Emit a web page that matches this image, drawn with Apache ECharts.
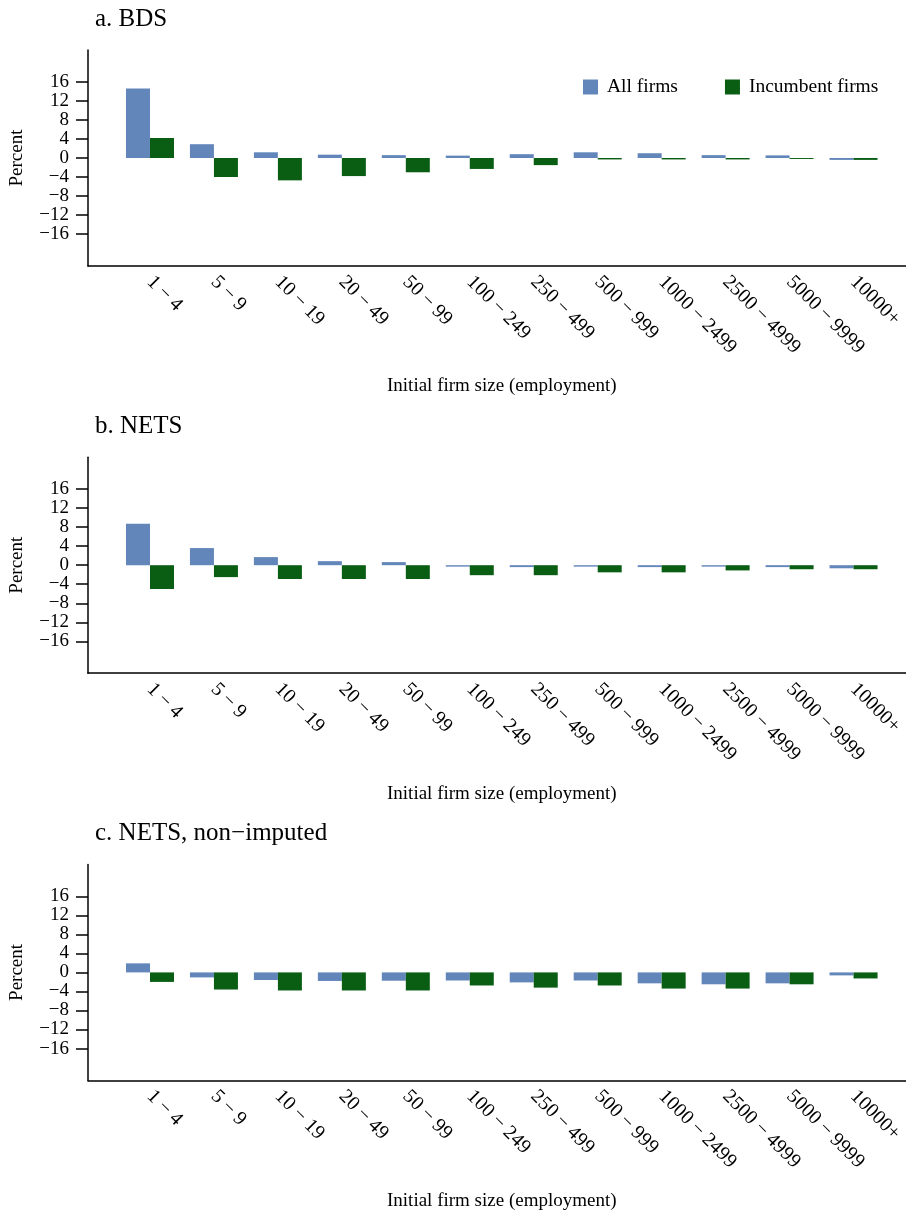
<!DOCTYPE html>
<html>
<head>
<meta charset="utf-8">
<script src="https://cdn.jsdelivr.net/npm/echarts@6/dist/echarts.min.js"></script>
<style>
html,body{margin:0;padding:0;background:#fff;}
#chart{width:906px;height:1216px;}
</style>
</head>
<body>
<div id="chart"></div>
<script>
// ---- data ----
const categories = ["1 \u2212 4","5 \u2212 9","10 \u2212 19","20 \u2212 49","50 \u2212 99","100 \u2212 249","250 \u2212 499","500 \u2212 999","1000 \u2212 2499","2500 \u2212 4999","5000 \u2212 9999","10000+"];
const panelTitles = ["a. BDS", "b. NETS", "c. NETS, non\u2212imputed"];
const seriesNames = ["All firms", "Incumbent firms"];
const bdsAll = [14.6, 2.9, 1.2, 0.7, 0.6, 0.5, 0.8, 1.2, 1.0, 0.6, 0.55, -0.4];
const bdsIncumbent = [4.2, -4.0, -4.7, -3.8, -3.0, -2.3, -1.5, -0.3, -0.3, -0.3, -0.2, -0.4];
const netsAll = [8.7, 3.6, 1.7, 0.85, 0.65, -0.3, -0.4, -0.3, -0.4, -0.3, -0.4, -0.65];
const netsIncumbent = [-5.0, -2.5, -2.9, -2.9, -2.9, -2.1, -2.1, -1.5, -1.5, -1.1, -0.85, -0.85];
const netsNiAll = [1.9, -1.05, -1.6, -1.8, -1.75, -1.7, -2.1, -1.7, -2.3, -2.5, -2.3, -0.63];
const netsNiIncumbent = [-2.0, -3.6, -3.8, -3.8, -3.8, -2.75, -3.2, -2.75, -3.4, -3.4, -2.5, -1.27];
const yTicks = [-16, -12, -8, -4, 0, 4, 8, 12, 16];
const yMin = -22.7, yMax = 22.7;
const xAxisTitle = "Initial firm size (employment)";
const yAxisTitle = "Percent";

// ---- styling / layout ----
const FONT = '"Liberation Serif", "DejaVu Serif", serif';
const BLUE = '#6286BA';
const GREEN = '#0A5E14';
const panelStep = 407.2;
const axisTop = 50, axisH = 216;
const panels = [
  {title: panelTitles[0], all: bdsAll, inc: bdsIncumbent},
  {title: panelTitles[1], all: netsAll, inc: netsIncumbent},
  {title: panelTitles[2], all: netsNiAll, inc: netsNiIncumbent}
];

const grid = [], xAxis = [], yAxis = [], series = [], title = [];
const minus = v => String(v).replace('-', '\u2212');

panels.forEach((p, k) => {
  const top = axisTop + k * panelStep;
  title.push({
    text: p.title, left: 95, top: 7 + k * panelStep, padding: 0,
    textStyle: {fontFamily: FONT, fontSize: 25, fontWeight: 'normal', color: '#000'}
  });
  // helper grid: L-shaped axes
  grid.push({left: 88, right: 0, top: top, height: axisH});
  // main grid: bars + category labels
  grid.push({left: 118, right: 19, top: top, height: axisH});
  const hg = 2 * k, mg = 2 * k + 1;
  xAxis.push({
    gridIndex: hg, type: 'value', min: 0, max: 1,
    axisLine: {show: true, onZero: false, lineStyle: {color: '#000', width: 1.5}},
    axisTick: {show: false}, axisLabel: {show: false}, splitLine: {show: false}
  });
  xAxis.push({
    gridIndex: mg, type: 'category', data: categories,
    axisLine: {show: false}, axisTick: {show: false}, splitLine: {show: false},
    axisLabel: {interval: 0, rotate: -45, margin: 13, fontFamily: FONT, fontSize: 20, color: '#000'},
    name: xAxisTitle, nameLocation: 'middle', nameGap: 111,
    nameTextStyle: {fontFamily: FONT, fontSize: 19, color: '#000'}
  });
  yAxis.push({
    gridIndex: hg, type: 'value', min: yMin, max: yMax,
    axisLine: {show: true, onZero: false, lineStyle: {color: '#000', width: 1.5}},
    axisTick: {show: true, length: 12, customValues: yTicks, lineStyle: {color: '#000', width: 1.5}},
    axisLabel: {customValues: yTicks, margin: 19, formatter: minus, fontFamily: FONT, fontSize: 19, color: '#000'},
    splitLine: {show: false},
    name: yAxisTitle, nameLocation: 'middle', nameGap: 61,
    nameTextStyle: {fontFamily: FONT, fontSize: 19, color: '#000'}
  });
  yAxis.push({gridIndex: mg, type: 'value', min: yMin, max: yMax, show: false, splitLine: {show: false}});
  series.push({
    name: seriesNames[0], type: 'bar', xAxisIndex: mg, yAxisIndex: mg,
    data: p.all, barWidth: 24, barGap: '0%', itemStyle: {color: BLUE}
  });
  series.push({
    name: seriesNames[1], type: 'bar', xAxisIndex: mg, yAxisIndex: mg,
    data: p.inc, barWidth: 24, barGap: '0%', itemStyle: {color: GREEN}
  });
});

const chart = echarts.init(document.getElementById('chart'), null, {renderer: 'canvas'});
chart.setOption({
  animation: false,
  backgroundColor: '#fff',
  title: title,
  legend: {
    data: seriesNames, left: 583, top: 77, padding: 0,
    itemWidth: 15, itemHeight: 15, itemGap: 47,
    icon: 'rect',
    textStyle: {fontFamily: FONT, fontSize: 19.5, color: '#000', padding: [0, 0, 0, 4]}
  },
  grid: grid, xAxis: xAxis, yAxis: yAxis, series: series
});
</script>
</body>
</html>
